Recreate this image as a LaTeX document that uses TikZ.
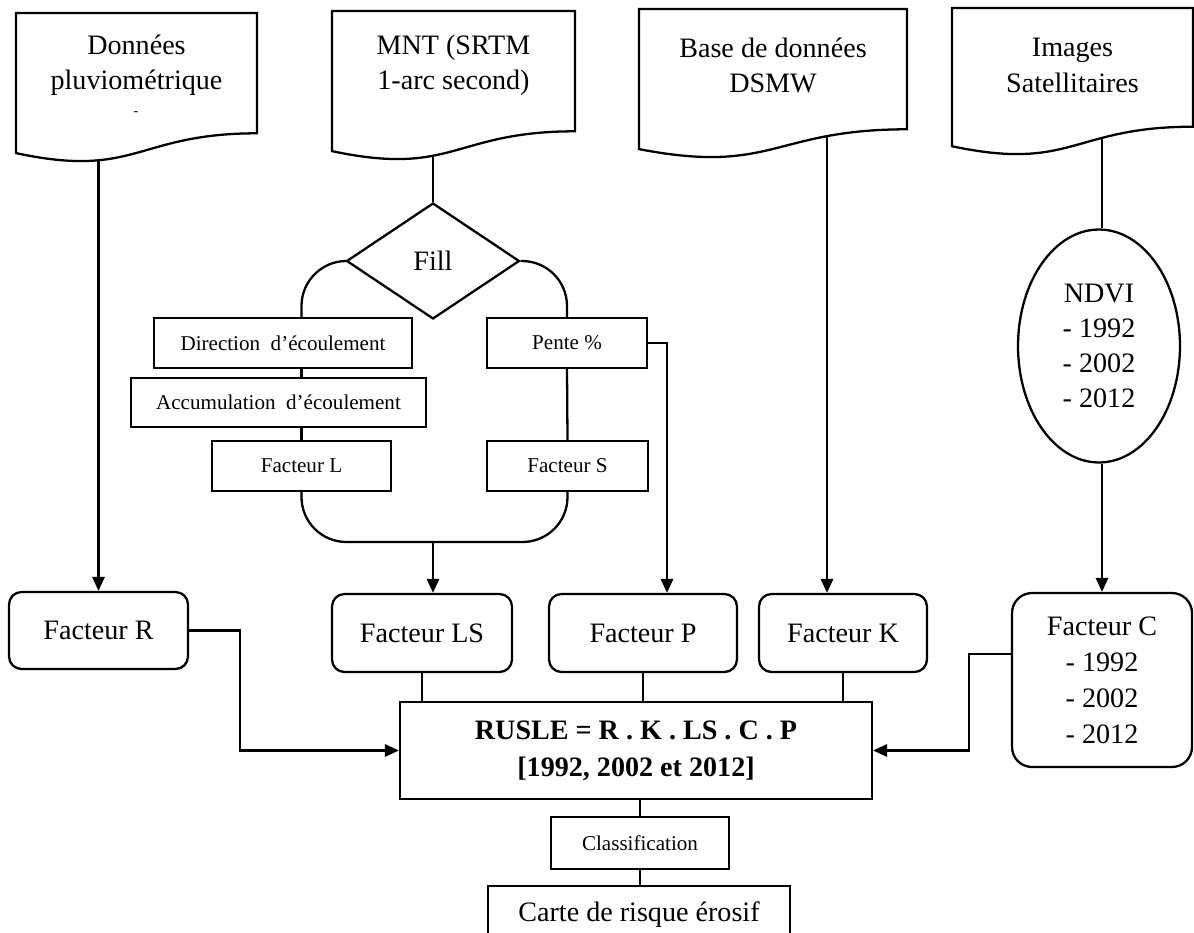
\documentclass[tikz,border=0pt]{standalone}
\usepackage{fontspec}
\setmainfont{Liberation Serif}
\usetikzlibrary{shapes.geometric,arrows.meta}
\newcommand{\docwave}[4]{%
  \draw (#1,#2) -- ({#1+#3},#2) -- ({#1+#3},{#2+0.802*#4})
    .. controls ({#1+0.5*#3},{#2+0.802*#4}) and ({#1+0.5*#3},{#2+1.107*#4}) .. (#1,{#2+0.934*#4}) -- cycle;}
\tikzset{
  bigtxt/.style={font=\fontsize{16}{20}\selectfont, align=center},
  smalltxt/.style={font=\fontsize{12}{14}\selectfont},
  flowbox/.style={draw, smalltxt, minimum height=1cm, inner sep=0pt},
  fact/.style={draw, rounded corners=0.25cm, bigtxt, minimum height=1.56cm, inner sep=0pt},
  arr/.style={-{Triangle[length=8pt,width=7pt]}}
}
\begin{document}
\begin{tikzpicture}[x=0.02cm, y=-0.02cm, line width=1.3pt]
\useasboundingbox (0,0) rectangle (1194,933);
\docwave{16}{13}{241}{150}
\docwave{332}{11}{243}{150}
\docwave{639}{9}{268}{150}
\docwave{952}{8}{241}{148}
\node[bigtxt] (d1) at (136.5,65.5) {Données\\pluviométrique};
\node[font=\fontsize{8}{8}\selectfont] (d1m) at (136,114) {-};
\node[bigtxt] (d2) at (453.5,65.5) {MNT (SRTM\\1-arc second)};
\node[bigtxt] (d3) at (773,65.5) {Base de données\\DSMW};
\node[bigtxt] (d4) at (1072.5,65.5) {Images\\Satellitaires};
\coordinate (d1b) at (98.5,160);
\coordinate (d2b) at (433,156);
\coordinate (d3b) at (827,136);
\coordinate (d4b) at (1102,138);

\node[draw, diamond, bigtxt, minimum width=3.46cm, minimum height=2.32cm, inner sep=0pt] (dia) at (433,261) {Fill};
\node[flowbox, minimum width=5.16cm] (dir) at (283,343) {Direction\ \ d’écoulement};
\node[flowbox, minimum width=5.9cm, minimum height=0.98cm] (acc) at (278.5,402.5) {Accumulation\ \ d’écoulement};
\node[flowbox, minimum width=3.58cm] (fL) at (301.5,466) {Facteur L};
\node[flowbox, minimum width=3.2cm] (pe) at (567,343) {Pente \%};
\node[flowbox, minimum width=3.22cm] (fS) at (567.5,466) {Facteur S};
\node[draw, ellipse, bigtxt, minimum width=3.24cm, minimum height=4.66cm, inner sep=0pt] (nd) at (1099,346) {NDVI\\- 1992\\- 2002\\- 2012};

\node[fact, minimum width=3.58cm, minimum height=1.54cm] (fR) at (98.5,630.5) {Facteur R};
\node[fact, minimum width=3.6cm] (fLS) at (422,633) {Facteur LS};
\node[fact, minimum width=3.76cm] (fP) at (643,633) {Facteur P};
\node[fact, minimum width=3.36cm] (fK) at (843,633) {Facteur K};
\node[fact, rounded corners=0.4cm, minimum width=3.6cm, minimum height=3.48cm, font=\fontsize{16}{20.5}\selectfont] (fC) at (1102,680) {Facteur C\\- 1992\\- 2002\\- 2012};
\node[draw, align=center, font=\fontsize{16}{21}\selectfont\bfseries, minimum width=9.44cm, minimum height=1.94cm, inner sep=0pt] (rusle) at (636,750.5) {RUSLE = R . K . LS . C . P\\{[1992, 2002 et 2012]}};
\node[flowbox, minimum width=3.56cm, minimum height=1.04cm] (cls) at (640,843) {Classification};
\node[draw, bigtxt, minimum width=6.04cm, minimum height=1.16cm, inner sep=0pt] (carte) at (639,915) {Carte de risque érosif};

\draw [arr] (d1b) -- (fR.north);
\draw (d2b) -- (dia.north);
\draw [arr] (d3b) -- (d3b |- fK.north);
\draw (d4b) -- (d4b |- nd.north);
\draw [arr] (d4b |- nd.south) -- (fC.north);
\draw [rounded corners=0.9cm] (dia.west) -| (dir.north -| fL.north);
\draw [rounded corners=0.9cm] (dia.east) -| (pe.north);
\draw (dir.south -| fL.north) -- (acc.north -| fL.north);
\draw (acc.south -| fL.north) -- (fL.north);
\draw (pe.south) -- (fS.north);
\coordinate (mg) at (433,542);
\draw [rounded corners=0.9cm] (fL.south) |- (mg) -| (fS.south);
\draw [arr] (mg) -- (mg |- fLS.north);
\coordinate (pk) at (667,343);
\draw [arr] (pe.east) -- (pk) -- (pk |- fP.north);
\draw (fLS.south) -- (fLS.south |- rusle.north);
\draw (fP.south) -- (fP.south |- rusle.north);
\draw (fK.south) -- (fK.south |- rusle.north);
\coordinate (rk) at (240,750.5);
\draw [arr] (fR.east) -| (rk) -- (rusle.west);
\coordinate (ck) at (969,750.5);
\draw [arr] (fC.164) -| (ck) -- (rusle.east);
\draw (cls.north) -- (cls.north |- rusle.south);
\draw (cls.south) -- (cls.south |- carte.north);
\end{tikzpicture}
\end{document}
